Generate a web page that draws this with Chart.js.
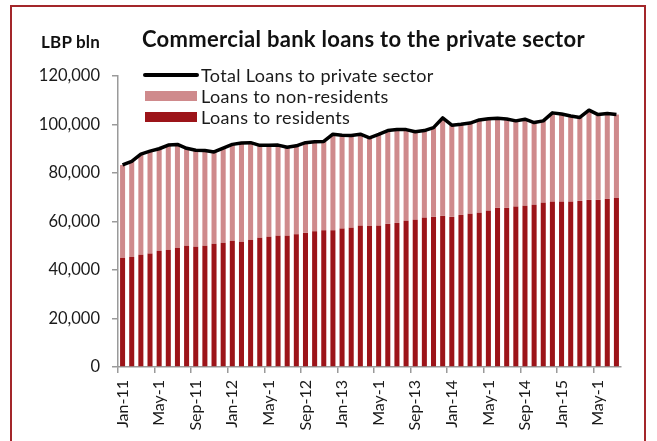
<!DOCTYPE html>
<html>
<head>
<meta charset="utf-8">
<script src="https://cdn.jsdelivr.net/npm/chart.js@4.4.1/dist/chart.umd.min.js"></script>
<style>
  html, body { margin: 0; padding: 0; background: #fff; }
  body { width: 657px; height: 441px; position: relative; overflow: hidden; font-family: Lato, "DejaVu Sans", sans-serif; }
  #frame { position: absolute; left: 10px; top: 5px; width: 636px; height: 470px; border: 2px solid #a3262a; box-sizing: border-box; }
  #unit { position: absolute; left: 41px; top: 31px; font-weight: bold; font-size: 17px; letter-spacing: 0.2px; color: #111; }
  #title { position: absolute; left: 142px; top: 25px; font-weight: bold; font-size: 22px; letter-spacing: 0.3px; color: #111; white-space: nowrap; }
  #wrap { position: absolute; left: 0; top: 0; width: 657px; height: 441px; }
</style>
</head>
<body>
<div id="frame"></div>
<div id="wrap"><canvas id="c" width="657" height="441"></canvas></div>
<div id="unit">LBP bln</div>
<div id="title">Commercial bank loans to the private sector</div>
<script>
const categories = [
  "Jan-11","Feb-11","Mar-11","Apr-11","May-11","Jun-11","Jul-11","Aug-11","Sep-11","Oct-11","Nov-11","Dec-11",
  "Jan-12","Feb-12","Mar-12","Apr-12","May-12","Jun-12","Jul-12","Aug-12","Sep-12","Oct-12","Nov-12","Dec-12",
  "Jan-13","Feb-13","Mar-13","Apr-13","May-13","Jun-13","Jul-13","Aug-13","Sep-13","Oct-13","Nov-13","Dec-13",
  "Jan-14","Feb-14","Mar-14","Apr-14","May-14","Jun-14","Jul-14","Aug-14","Sep-14","Oct-14","Nov-14","Dec-14",
  "Jan-15","Feb-15","Mar-15","Apr-15","May-15","Jun-15","Jul-15"
];
const tickLabels = ["Jan-11","May-1","Sep-11","Jan-12","May-1","Sep-12","Jan-13","May-1","Sep-13","Jan-14","May-1","Sep-14","Jan-15","May-1"];
const residents = [
  45000,45400,46300,46800,47900,48300,49100,50000,49600,50000,50800,51200,
  52000,51600,52400,53300,53700,54100,54100,54700,55300,56000,56400,56400,
  57100,57400,58200,58100,58200,59000,59400,60300,60700,61500,61900,62300,
  61900,62700,63200,63600,64400,65600,65600,66200,66500,66900,67700,68100,
  68100,68100,68500,68900,68900,69300,69700
];
const nonResidents = [
  38300,39400,41500,42200,42100,43200,42700,40200,39800,39300,37900,39100,
  39800,40800,40100,38100,37700,37400,36500,36500,37200,36900,36600,39600,
  38500,38100,37800,36400,37700,38500,38500,37600,36300,36000,36800,40400,
  37800,37400,37400,38300,38000,37000,36700,35300,35700,33900,33800,36700,
  36200,35400,34400,37000,35200,35200,34400
];
const totalLoans = [
  83300,84800,87800,89000,90000,91500,91800,90200,89400,89300,88700,90300,
  91800,92400,92500,91400,91400,91500,90600,91200,92500,92900,93000,96000,
  95600,95500,96000,94500,95900,97500,97900,97900,97000,97500,98700,102700,
  99700,100100,100600,101900,102400,102600,102300,101500,102200,100800,101500,104800,
  104300,103500,102900,105900,104100,104500,104100
];
const yTicks = [0, 20000, 40000, 60000, 80000, 100000, 120000];

const FONT = "Lato, 'DejaVu Sans', sans-serif";
const AXIS_GREY = "#9a9a9a";

const legendPlugin = {
  id: 'insideLegend',
  afterDraw(chart) {
    const ctx = chart.ctx;
    const a = chart.chartArea;
    const x0 = a.left + 27, x1 = a.left + 79, tx = a.left + 83;
    const rows = [
      {ds: 2, y: 75},
      {ds: 1, y: 96},
      {ds: 0, y: 117}
    ];
    ctx.save();
    ctx.font = "18px " + FONT;
    try { ctx.letterSpacing = "0.35px"; } catch (e) {}
    ctx.textBaseline = "middle";
    ctx.textAlign = "left";
    rows.forEach(r => {
      const d = chart.data.datasets[r.ds];
      if (d.type === 'line') {
        ctx.strokeStyle = d.borderColor;
        ctx.lineWidth = 4;
        ctx.lineCap = 'round';
        ctx.beginPath();
        ctx.moveTo(x0, r.y);
        ctx.lineTo(x1, r.y);
        ctx.stroke();
      } else {
        ctx.fillStyle = d.backgroundColor;
        ctx.fillRect(x0, r.y - 5, x1 - x0, 10);
      }
      ctx.fillStyle = "#1a1a1a";
      ctx.fillText(d.label, tx, r.y + 1);
    });
    ctx.restore();
  }
};

new Chart(document.getElementById('c'), {
  data: {
    labels: categories,
    datasets: [
      { type: 'bar', label: 'Loans to residents', data: residents, backgroundColor: '#9c1419', stack: 'loans', order: 2,
        barPercentage: 0.55, categoryPercentage: 1.0 },
      { type: 'bar', label: 'Loans to non-residents', data: nonResidents, backgroundColor: '#cf8a8c', stack: 'loans', order: 2,
        barPercentage: 0.55, categoryPercentage: 1.0 },
      { type: 'line', label: 'Total Loans to private sector', data: totalLoans, borderColor: '#000000', borderWidth: 3.5,
        pointRadius: 0, tension: 0, stack: 'total', order: 1, fill: false, borderJoinStyle: 'round' }
    ]
  },
  options: {
    responsive: false,
    animation: false,
    events: [],
    layout: { padding: { left: 0, top: 76, right: 36, bottom: 4 } },
    plugins: { legend: { display: false }, tooltip: { enabled: false }, title: { display: false } },
    scales: {
      x: {
        stacked: true,
        offset: true,
        afterFit(s) { s.height = 70; },
        grid: {
          offset: true,
          drawOnChartArea: false,
          drawTicks: true,
          tickLength: 6,
          tickColor: (c) => (c.index % 4 === 0 ? AXIS_GREY : 'rgba(0,0,0,0)'),
          lineWidth: 1.5
        },
        border: { display: true, color: AXIS_GREY, width: 1.5 },
        ticks: {
          autoSkip: false,
          minRotation: 90,
          maxRotation: 90,
          padding: 7,
          color: '#1a1a1a',
          font: { family: FONT, size: 16 },
          callback: (v, i) => (i % 4 === 0 ? tickLabels[i / 4] : '')
        }
      },
      y: {
        stacked: true,
        min: yTicks[0],
        max: yTicks[yTicks.length - 1],
        afterFit(s) { s.width = 118; },
        afterBuildTicks(s) { s.ticks = yTicks.map(v => ({ value: v })); },
        grid: { drawOnChartArea: false, drawTicks: true, tickLength: 6, tickColor: AXIS_GREY, lineWidth: 1.5 },
        border: { display: true, color: AXIS_GREY, width: 1.5 },
        ticks: {
          padding: 12,
          color: '#1a1a1a',
          font: { family: FONT, size: 16.5 },
          callback: (v) => v.toLocaleString('en-US')
        }
      }
    }
  },
  plugins: [legendPlugin]
});
</script>
</body>
</html>
